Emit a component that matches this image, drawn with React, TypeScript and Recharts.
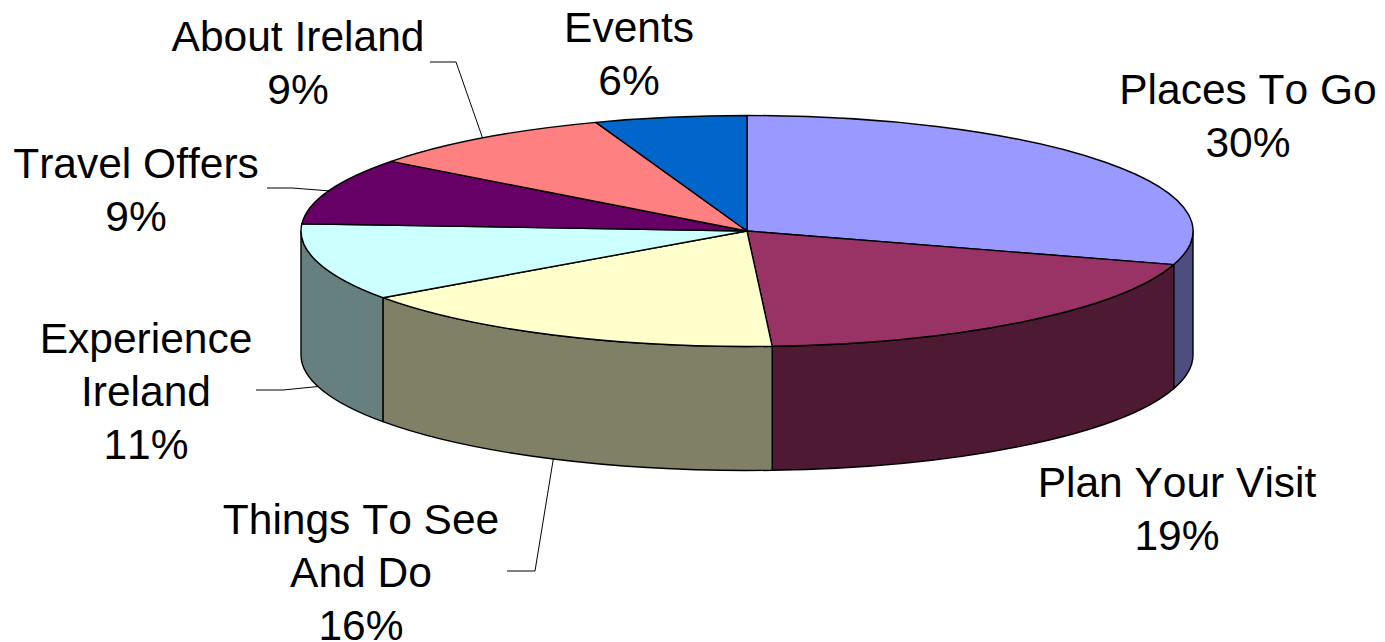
import React from "react";
import { Pie, PieChart } from "recharts";

const categoryLines = [
  ["Places To Go"],
  ["Plan Your Visit"],
  ["Things To See", "And Do"],
  ["Experience", "Ireland"],
  ["Travel Offers"],
  ["About Ireland"],
  ["Events"],
];
const shares = [29.7, 19.4, 16.1, 10.8, 9.3, 9.2, 5.5];
const topColors = ["#9999FF", "#993366", "#FFFFCC", "#CCFFFF", "#660066", "#FF8080", "#0066CC"];
const wallColors = ["#4D4D80", "#4D1933", "#808066", "#668080", "#330033", "#804040", "#003366"];

const pieData = shares.map((value, i) => ({
  name: categoryLines[i].join(" "),
  value,
  fill: topColors[i],
  wall: wallColors[i],
}));

const CX = 747;
const CY = 231;
const RX = 446;
const RY = 115.5;
const DEPTH = 124;
const FONT = 42.5;
const LINE = 53;

// centre x and first baseline of each label, optional leader [start, elbow]
const labelLayout: { x: number; y: number; leader?: number[][]; onWall?: boolean }[] = [
  { x: 1248, y: 104 },
  { x: 1177, y: 497 },
  { x: 361, y: 534, leader: [[507, 571], [535, 571]], onWall: true },
  { x: 146, y: 353, leader: [[256, 390], [283, 390]], onWall: true },
  { x: 136, y: 178, leader: [[267, 188], [292, 188]] },
  { x: 298, y: 51, leader: [[430, 62], [456, 62]] },
  { x: 629, y: 42 },
];

const pt = (cx: number, cy: number, deg: number) => {
  const a = (deg * Math.PI) / 180;
  return [cx + RX * Math.cos(a), cy - RY * Math.sin(a)];
};

const TopSlice = (props: any) => {
  const { cx, cy, startAngle, endAngle, fill } = props;
  const [x1, y1] = pt(cx, cy, startAngle);
  const [x2, y2] = pt(cx, cy, endAngle);
  const large = startAngle - endAngle > 180 ? 1 : 0;
  const d = `M${cx},${cy}L${x1},${y1}A${RX},${RY} 0 ${large} 1 ${x2},${y2}Z`;
  return <path d={d} fill={fill} stroke="#000" strokeWidth={1.4} strokeLinejoin="round" />;
};

// only the part of a slice on the near side of the disc has a visible wall
const WallSlice = (props: any) => {
  const { cx, cy, startAngle, endAngle, payload } = props;
  const hi = Math.min(startAngle, 0);
  const lo = Math.max(endAngle, -180);
  if (lo >= hi) return null;
  const [x1, y1] = pt(cx, cy, hi);
  const [x2, y2] = pt(cx, cy, lo);
  const d =
    `M${x1},${y1}A${RX},${RY} 0 0 1 ${x2},${y2}` +
    `L${x2},${y2 + DEPTH}A${RX},${RY} 0 0 0 ${x1},${y1 + DEPTH}Z`;
  return <path d={d} fill={payload.wall} stroke="#000" strokeWidth={1.4} strokeLinejoin="round" />;
};

const SliceLabel = (props: any) => {
  const { index, cx, cy, midAngle, value } = props;
  const place = labelLayout[index];
  const lines = categoryLines[index];
  let leader = null;
  if (place.leader) {
    const [ex, ey] = pt(cx, cy, midAngle);
    const [s, e] = place.leader;
    leader = (
      <polyline
        points={`${s[0]},${s[1]} ${e[0]},${e[1]} ${ex},${ey + (place.onWall ? DEPTH : 0)}`}
        fill="none"
        stroke="#000"
        strokeWidth={1}
      />
    );
  }
  return (
    <g>
      {leader}
      <text
        x={place.x}
        y={place.y}
        textAnchor="middle"
        fontFamily="Liberation Sans"
        fontSize={FONT}
        fill="#000"
        style={{ fontKerning: "none" }}
      >
        {lines.map((line: string, i: number) => (
          <tspan key={line} x={place.x} y={place.y + i * LINE}>
            {line}
          </tspan>
        ))}
        <tspan x={place.x} y={place.y + lines.length * LINE}>
          {Math.round(value)}%
        </tspan>
      </text>
    </g>
  );
};

const App = () => {
  return (
    <div style={{ position: "absolute", left: 0, top: 0, width: 1385, height: 642, background: "#fff" }}>
      <PieChart width={1385} height={642} margin={{ top: 0, right: 0, bottom: 0, left: 0 }}>
        <Pie
          data={pieData}
          dataKey="value"
          cx={CX}
          cy={CY}
          outerRadius={RX}
          startAngle={90}
          endAngle={-270}
          shape={WallSlice}
          label={false}
          labelLine={false}
          isAnimationActive={false}
        />
        <Pie
          data={pieData}
          dataKey="value"
          cx={CX}
          cy={CY}
          outerRadius={RX}
          startAngle={90}
          endAngle={-270}
          shape={TopSlice}
          label={SliceLabel}
          labelLine={false}
          isAnimationActive={false}
        />
      </PieChart>
    </div>
  );
};

export default App;
